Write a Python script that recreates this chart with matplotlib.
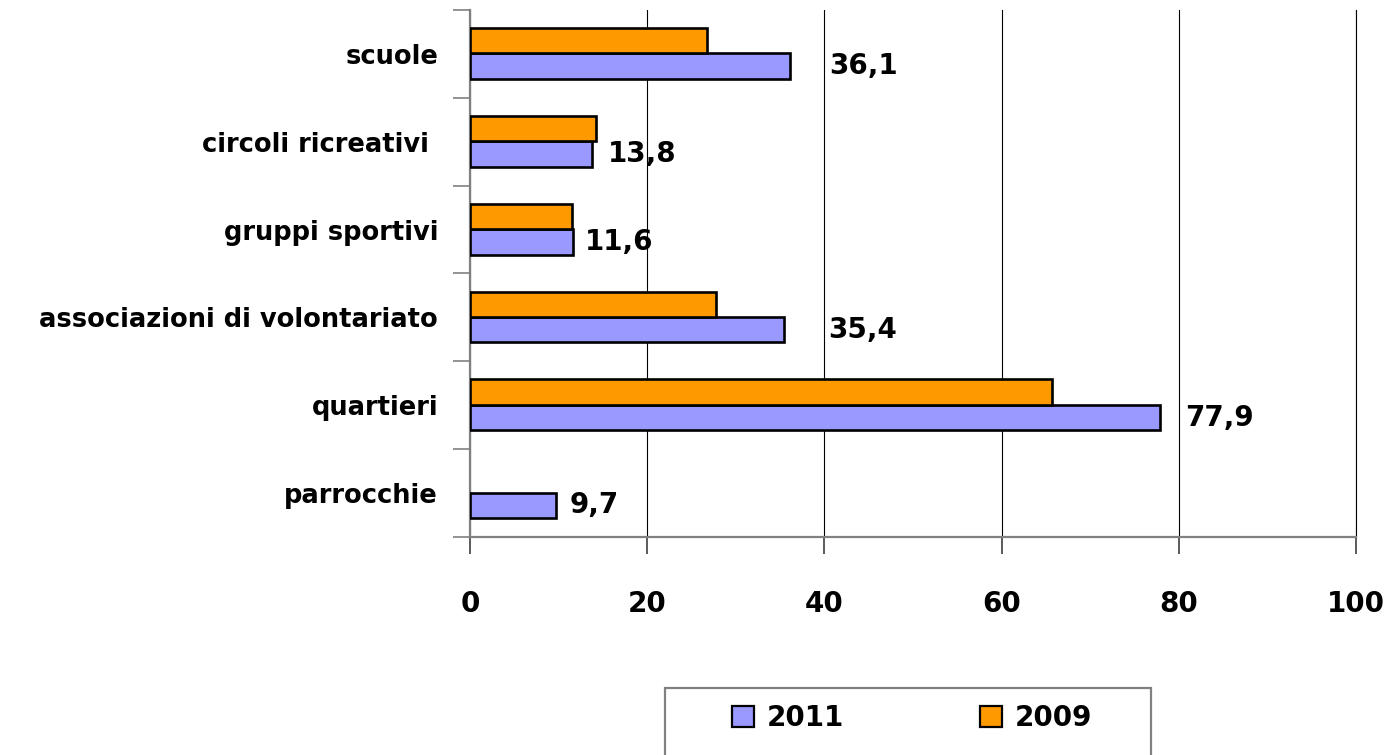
import matplotlib
matplotlib.use("Agg")
import matplotlib.pyplot as plt
import numpy as np
from matplotlib.patches import Rectangle, Patch

categories = ["scuole", "circoli ricreativi ", "gruppi sportivi",
              "associazioni di volontariato", "quartieri", "parrocchie"]
values_2011 = [36.1, 13.8, 11.6, 35.4, 77.9, 9.7]
values_2009 = [26.8, 14.2, 11.5, 27.8, 65.7, None]
labels_2011 = ["36,1", "13,8", "11,6", "35,4", "77,9", "9,7"]
xticks = [0, 20, 40, 60, 80, 100]

# styling: label offsets in points (to mimic original placement)
label_offsets = [28, 11, 9, 32, 18, 10]

C2011 = "#9999FF"
C2009 = "#FF9900"

plt.rcParams['font.family'] = ['DejaVu Sans']
plt.rcParams['font.weight'] = 'bold'

W, H = 1393, 755
fig = plt.figure(figsize=(W / 100, H / 100), dpi=100)
ax = fig.add_axes([470 / W, 1 - 537 / H, (1356 - 470) / W, (537 - 10) / H])

y = np.arange(len(categories))
bh = 0.29
for i in range(len(categories)):
    ax.barh(y[i] + 0.14, values_2011[i], height=bh, color=C2011,
            edgecolor="black", linewidth=1.9, zorder=3)
    if values_2009[i] is not None:
        ax.barh(y[i] - 0.15, values_2009[i], height=bh, color=C2009,
                edgecolor="black", linewidth=1.9, zorder=3)
    ax.annotate(labels_2011[i], xy=(values_2011[i], y[i] + 0.14),
                xytext=(label_offsets[i], 0), textcoords="offset points",
                ha="left", va="center", fontsize=20, fontweight="bold",
                zorder=4)

ax.set_xlim(0, 100)
ax.set_ylim(len(categories) - 0.5, -0.5)
ax.set_xticks(xticks)
ax.set_xticklabels([str(t) for t in xticks], fontsize=20, fontweight="bold")
ax.set_yticks(y)
ax.set_yticklabels(categories, fontsize=18.5, fontweight="bold")
ax.set_yticks(np.arange(len(categories) + 1) - 0.5, minor=True)

ax.tick_params(axis="y", which="major", length=0, pad=23)
ax.tick_params(axis="y", which="minor", length=12, width=1.2, color="#808080")
ax.tick_params(axis="x", which="major", length=12, width=1.2, color="#404040",
               pad=26, direction="out")

ax.grid(axis="x", color="black", linewidth=0.8, zorder=0)
ax.set_axisbelow(True)
ax.spines["top"].set_visible(False)
ax.spines["right"].set_color("black")
ax.spines["right"].set_linewidth(0.8)
for s in ["left", "bottom"]:
    ax.spines[s].set_color("#808080")
    ax.spines[s].set_linewidth(1.6)

# legend
handles = [Patch(facecolor=C2011, edgecolor="black", linewidth=1.6, label="2011"),
           Patch(facecolor=C2009, edgecolor="black", linewidth=1.6, label="2009")]
leg = fig.legend(handles=handles, loc="center", ncol=2,
                 bbox_to_anchor=(912 / W, 1 - 718 / H), frameon=False,
                 prop={"size": 20, "weight": "bold"},
                 handlelength=0.8, handleheight=0.8, handletextpad=0.45,
                 columnspacing=4.9)
fig.patches.append(Rectangle((665 / W, 1 - 775 / H), (1151 - 665) / W, (775 - 688) / H,
                             transform=fig.transFigure, facecolor="none",
                             edgecolor="#808080", linewidth=1.6))

fig.savefig("out.png", dpi=100)
